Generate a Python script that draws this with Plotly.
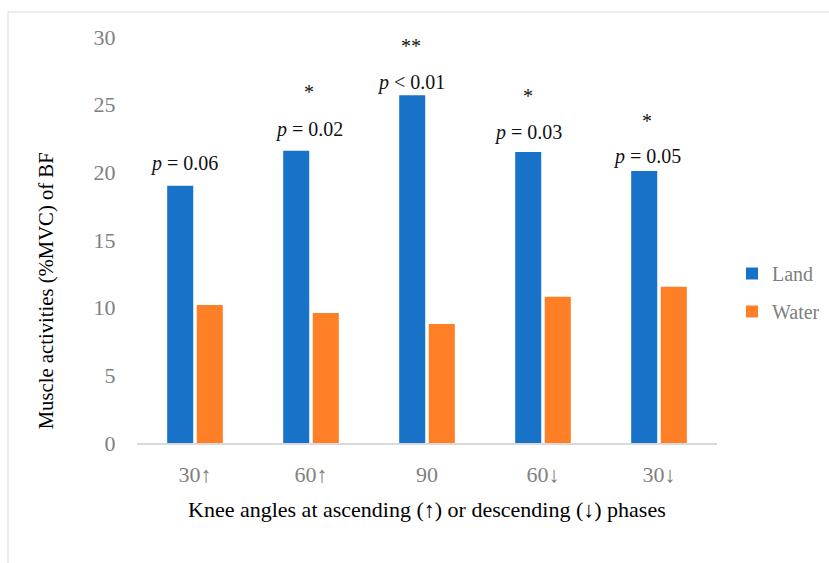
import plotly.graph_objects as go

categories = ["30↑", "60↑", "90", "60↓", "30↓"]
land = [19.0, 21.6, 25.7, 21.5, 20.1]
water = [10.2, 9.6, 8.8, 10.8, 11.55]
p_labels = ["<i>p</i> = 0.06", "<i>p</i> = 0.02", "<i>p</i> < 0.01", "<i>p</i> = 0.03", "<i>p</i> = 0.05"]
stars = ["", "*", "**", "*", "*"]
y_ticks = [0, 5, 10, 15, 20, 25, 30]

# label placement offsets (pixels) relative to the Land bar top / centre
p_yshift = [22, 21, 13, 20, 14]
star_yshift = [0, 59, 49, 56, 50]
label_xshift = [5, 14, 0, 1, 4]

FONT = "Liberation Serif, DejaVu Serif, serif"
xs = list(range(len(categories)))

fig = go.Figure()
fig.add_trace(go.Bar(x=xs, y=land, name="Land", marker=dict(color="#1873C8", line=dict(width=0)),
                     legendgroup="a"))
fig.add_trace(go.Bar(x=xs, y=water, name="Water", marker=dict(color="#FF7F27", line=dict(width=0)),
                     legendgroup="b"))

annotations = []
for i, (v, p, s) in enumerate(zip(land, p_labels, stars)):
    annotations.append(dict(x=i - 0.142, y=v, xref="x", yref="y", text=p, showarrow=False,
                            yshift=p_yshift[i], xshift=label_xshift[i],
                            font=dict(family=FONT, size=20, color="#111111")))
    if s:
        annotations.append(dict(x=i - 0.142, y=v, xref="x", yref="y", text=s, showarrow=False,
                                yshift=star_yshift[i], xshift=label_xshift[i],
                                font=dict(family=FONT, size=20, color="#111111")))

annotations.append(dict(x=-0.157, y=0.376, xref="paper", yref="paper", xanchor="center", yanchor="middle",
                        text="Muscle activities (%MVC) of BF", textangle=-90, showarrow=False,
                        font=dict(family=FONT, size=20.7, color="#000000")))
annotations.append(dict(x=0.5, y=-0.165, xref="paper", yref="paper", xanchor="center", yanchor="middle",
                        text="Knee angles at ascending (↑) or descending (↓) phases", showarrow=False,
                        font=dict(family=FONT, size=22, color="#000000")))

fig.update_layout(
    width=829, height=563,
    margin=dict(l=137, r=112, t=37, b=120, autoexpand=False),
    paper_bgcolor="white", plot_bgcolor="white",
    barmode="group", bargap=0.49, bargroupgap=0.12,
    font=dict(family=FONT),
    showlegend=True,
    legend=dict(x=1.0259, y=0.3707, xanchor="left", yanchor="middle",
                font=dict(family=FONT, size=20, color="#808080"),
                traceorder="grouped", tracegroupgap=9, bgcolor="rgba(0,0,0,0)"),
    annotations=annotations,
    shapes=[dict(type="rect", xref="paper", yref="paper", x0=-0.2224, x1=1.25, y0=-0.35, y1=1.0616,
                 line=dict(color="#D9D9D9", width=1), fillcolor="rgba(0,0,0,0)", layer="below")],
    xaxis=dict(tickvals=xs, ticktext=categories, range=[-0.5, 4.5], showline=True,
               linecolor="#D9D9D9", linewidth=2, ticks="outside", ticklen=11, tickcolor="rgba(0,0,0,0)",
               tickfont=dict(family=FONT, size=22, color="#808080"), showgrid=False, zeroline=False),
    yaxis=dict(range=[0, 30], tickvals=y_ticks, showgrid=False, zeroline=False, showline=False,
               ticks="outside", ticklen=16, tickcolor="rgba(0,0,0,0)",
               tickfont=dict(family=FONT, size=22, color="#808080")),
)

fig.write_html("out.html", config={"displayModeBar": False},
               post_script="document.body.style.margin='0';document.body.style.overflow='hidden';")
